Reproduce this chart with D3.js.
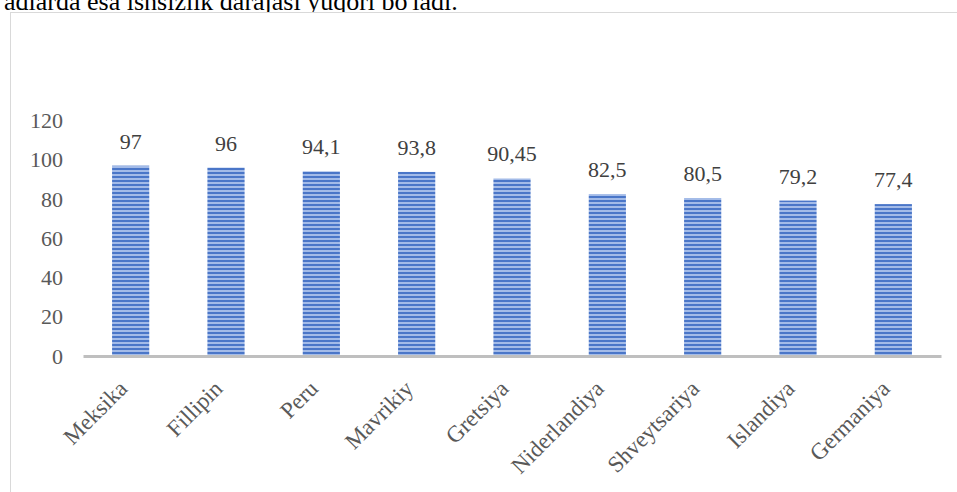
<!DOCTYPE html>
<html>
<head>
<meta charset="utf-8">
<script src="https://cdn.jsdelivr.net/npm/d3@7"></script>
<style>
  html, body { margin: 0; padding: 0; background: #fff; }
  svg { display: block; }
</style>
</head>
<body>
<div id="chart"></div>
<script>
// Unemployment level by country (column chart)

const categories = ['Meksika', 'Fillipin', 'Peru', 'Mavrikiy', 'Gretsiya', 'Niderlandiya', 'Shveytsariya', 'Islandiya', 'Germaniya'];
const values = [97, 96, 94.1, 93.8, 90.45, 82.5, 80.5, 79.2, 77.4];
const yTicks = [0, 20, 40, 60, 80, 100, 120];
const headerText = "adlarda esa ishsizlik darajasi yuqori bo'ladi.";

const VIS_CONFIG = {
  width: 957,
  height: 492,
  plot: { left: 83, right: 941, top: 120.5, bottom: 356 },
};

const FONT = "'Liberation Serif', 'Times New Roman', serif";

function fmt(v) {
  return String(v).replace('.', ',');
}

function initChart() {
  const container = d3.select('#chart');
  container.html('');

  const svg = container
    .append('svg')
    .attr('width', VIS_CONFIG.width)
    .attr('height', VIS_CONFIG.height);

  // stripe fill for the bars
  const defs = svg.append('defs');
  const pat = defs
    .append('pattern')
    .attr('id', 'stripes')
    .attr('patternUnits', 'userSpaceOnUse')
    .attr('width', 4)
    .attr('height', 4);
  pat.append('rect').attr('width', 4).attr('height', 4).attr('fill', '#4a76c8');
  pat.append('rect').attr('y', 2).attr('width', 4).attr('height', 2).attr('fill', '#a3bbe8');

  // cut-off line of document text above the chart
  svg
    .append('text')
    .attr('x', 4)
    .attr('y', 10)
    .attr('font-family', FONT)
    .attr('font-size', 26)
    .attr('fill', '#000')
    .text(headerText);

  // chart frame
  svg
    .append('rect')
    .attr('x', 10.5)
    .attr('y', 12.5)
    .attr('width', 980)
    .attr('height', 500)
    .attr('fill', '#fff')
    .attr('stroke', '#d9d9d9')
    .attr('stroke-width', 1);

  const p = VIS_CONFIG.plot;

  const x = d3
    .scaleBand()
    .domain(categories)
    .range([p.left, p.right])
    .paddingInner(0.61)
    .paddingOuter(0.305);

  const y = d3.scaleLinear().domain([0, 120]).range([p.bottom, p.top]);

  // y axis labels
  const yAxis = svg
    .append('g')
    .attr('transform', `translate(${p.left - 15},0)`)
    .call(d3.axisLeft(y).tickValues(yTicks).tickSize(0).tickPadding(5));
  yAxis.select('.domain').remove();
  yAxis
    .selectAll('text')
    .attr('font-family', FONT)
    .attr('font-size', 22)
    .attr('fill', '#595959');

  // bars
  svg
    .append('g')
    .selectAll('rect')
    .data(values)
    .join('rect')
    .attr('x', (d, i) => x(categories[i]))
    .attr('y', d => y(d))
    .attr('width', x.bandwidth())
    .attr('height', d => y(0) - y(d))
    .attr('fill', 'url(#stripes)');

  // value labels
  svg
    .append('g')
    .selectAll('text')
    .data(values)
    .join('text')
    .attr('x', (d, i) => x(categories[i]) + x.bandwidth() / 2)
    .attr('y', d => y(d) - 17)
    .attr('text-anchor', 'middle')
    .attr('font-family', FONT)
    .attr('font-size', 22)
    .attr('fill', '#404040')
    .text(d => fmt(d));

  // x axis
  const xAxis = svg
    .append('g')
    .attr('transform', `translate(0,${p.bottom})`)
    .call(d3.axisBottom(x).tickSize(0).tickSizeOuter(0).tickPadding(0));
  xAxis.select('.domain').attr('stroke', '#bfbfbf').attr('stroke-width', 3);
  xAxis
    .selectAll('text')
    .attr('font-family', FONT)
    .attr('font-size', 23)
    .attr('fill', '#595959')
    .attr('text-anchor', 'end')
    .attr('dy', null)
    .attr('y', 0)
    .attr('transform', 'translate(-2,34) rotate(-45)');
}

initChart();
</script>
</body>
</html>
